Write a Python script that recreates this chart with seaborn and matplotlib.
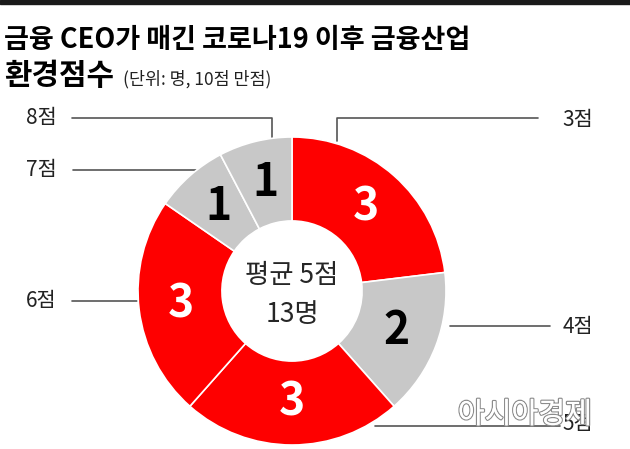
import matplotlib
matplotlib.use('Agg')
import matplotlib.pyplot as plt
import matplotlib.patheffects as pe
import seaborn as sns

# 데이터 (단위: 명)
score_labels = ['3점', '4점', '5점', '6점', '7점', '8점']
counts = [3, 2, 3, 3, 1, 1]
slice_colors = ['#fe0000', '#c8c8c8', '#fe0000', '#fe0000', '#c8c8c8', '#c8c8c8']
number_colors = ['white', 'black', 'white', 'white', 'black', 'black']

title_line1 = '금융 CEO가 매긴 코로나19 이후 금융산업'
title_line2 = '환경점수'
subtitle = '(단위: 명, 10점 만점)'
center_text = ['평균 5점', '13명']

# 라벨 위치와 지시선 (픽셀, 위에서부터)
label_pos = {
    '3점': (578, 120), '4점': (578, 327), '5점': (578, 424),
    '6점': (41, 301), '7점': (41, 170), '8점': (41, 118),
}
leader_lines = {
    '3점': [(337, 141), (337, 118), (538, 118)],
    '4점': [(450, 326), (550, 326)],
    '5점': [(375, 426), (560, 426)],
    '6점': [(137, 301), (72, 301)],
    '7점': [(196, 170), (73, 170)],
    '8점': [(272, 140), (272, 118), (72, 118)],
}

W, H = 630, 449
sns.set_theme(style='white')
plt.rcParams['font.family'] = ['Noto Sans CJK KR', 'DejaVu Sans']

fig = plt.figure(figsize=(W / 100, H / 100), dpi=100)
fig.patch.set_facecolor('white')

# 도넛 차트
cx, cy, r = 292, 291, 154
ax = fig.add_axes([(cx - r) / W, (H - cy - r) / H, 2 * r / W, 2 * r / H])
total = sum(counts)
wedges, texts, autotexts = ax.pie(
    counts, colors=slice_colors, startangle=90, counterclock=False,
    autopct=lambda p: f'{round(p * total / 100)}', pctdistance=0.725,
    wedgeprops=dict(width=0.545, edgecolor='white', linewidth=1.2),
)
for t, c in zip(autotexts, number_colors):
    t.set_color(c)
    t.set_fontsize(32)
    t.set_fontweight('bold')
ax.set_xlim(-1, 1)
ax.set_ylim(-1, 1)
ax.text(0, 0.10, center_text[0], ha='center', va='center', fontsize=19)
ax.text(0, -0.15, center_text[1], ha='center', va='center', fontsize=19)

# 라벨, 지시선, 제목용 오버레이
ov = fig.add_axes([0, 0, 1, 1], zorder=-1)
ov.set_xlim(0, W)
ov.set_ylim(H, 0)
ov.axis('off')
ov.patch.set_alpha(0)

ov.axhspan(0, 3.5, color='#1a1a1a')

for lab in score_labels:
    xs, ys = zip(*leader_lines[lab])
    ov.plot(xs, ys, color='#555555', lw=1.2)
    x, y = label_pos[lab]
    ov.text(x, y, lab, ha='center', va='center', fontsize=15, color='#222222')

ov.text(4, 40, title_line1, ha='left', va='center', fontsize=19.5,
        fontweight='black', color='black')
ov.text(4, 76, title_line2, ha='left', va='center', fontsize=21.5,
        fontweight='black', color='black')
ov.text(123, 79, subtitle, ha='left', va='center', fontsize=12.5, color='#222222')

# 워터마크
fig.text(525 / W, 1 - 415 / H, '아시아경제', ha='center', va='center',
         fontsize=21, color='white', zorder=5,
         path_effects=[pe.withStroke(linewidth=1.8, foreground='#8c8c8c'),
                       pe.Normal()])

fig.savefig('out.png', dpi=100, facecolor='white')
